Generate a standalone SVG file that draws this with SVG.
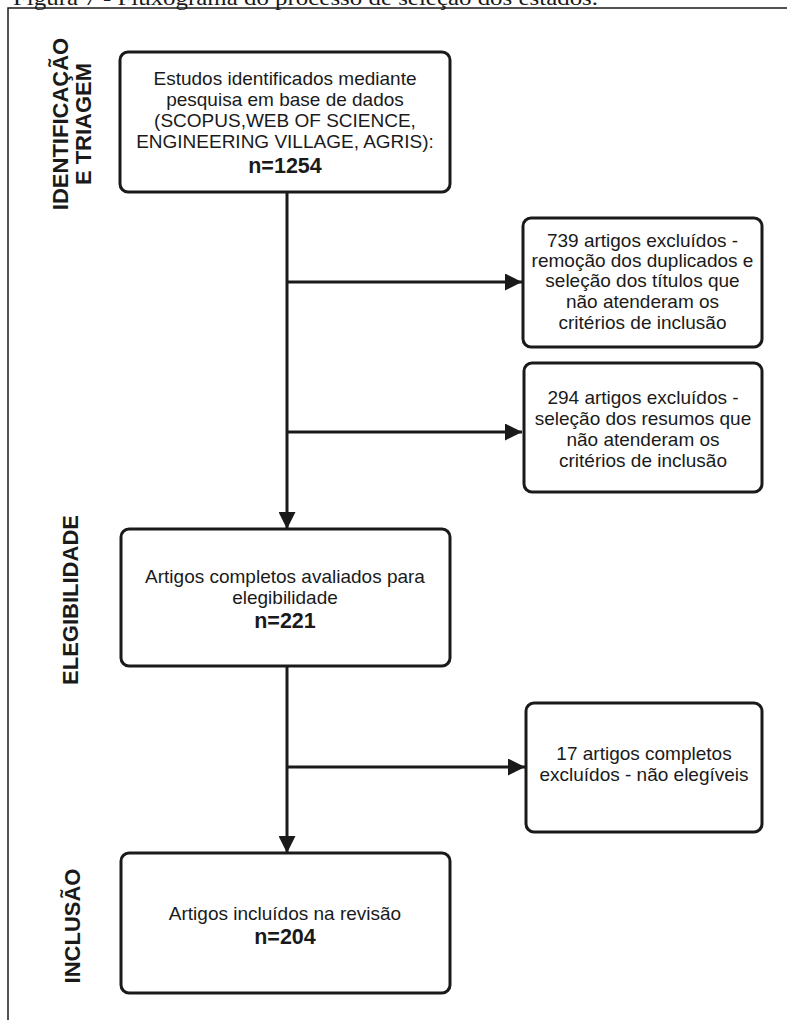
<svg xmlns="http://www.w3.org/2000/svg" width="787" height="1020" viewBox="0 0 787 1020">
<defs>
<style>
.box{fill:#fff;stroke:#1a1a1a;stroke-width:3}
.t{font-family:"Liberation Sans",Arial,sans-serif;font-size:19px;fill:#1a1a1a;text-anchor:middle}
.b{font-family:"Liberation Sans",Arial,sans-serif;font-size:21.5px;font-weight:bold;fill:#1a1a1a;text-anchor:middle}
.side{font-family:"Liberation Sans",Arial,sans-serif;font-size:22px;font-weight:bold;fill:#1a1a1a;text-anchor:middle}
.ln{fill:none;stroke:#1a1a1a;stroke-width:3}
.frame{fill:none;stroke:#1a1a1a;stroke-width:1.5}
</style>
<marker id="ah" markerUnits="userSpaceOnUse" markerWidth="17" markerHeight="17" viewBox="0 0 17 17" refX="17" refY="8.5" orient="auto">
<path d="M0,0 L17,8.5 L0,17 Z" fill="#1a1a1a"/>
</marker>
</defs>
<rect width="787" height="1020" fill="#fff"/>
<text x="13" y="5" font-family="'Liberation Serif','Times New Roman',serif" font-size="21" fill="#1a1a1a" textLength="585" lengthAdjust="spacingAndGlyphs">Figura 7 - Fluxograma do processo de seleção dos estados.</text>
<path class="frame" d="M8,1020 V8 H787"/>
<g id="labels">
<text class="side" transform="translate(68,124) rotate(-90)">IDENTIFICAÇÃO</text>
<text class="side" transform="translate(91,124) rotate(-90)">E TRIAGEM</text>
<text class="side" transform="translate(78,600) rotate(-90)">ELEGIBILIDADE</text>
<text class="side" transform="translate(80,926) rotate(-90)">INCLUSÃO</text>
</g>
<g id="connectors">
<line class="ln" x1="287" y1="192" x2="287" y2="529" marker-end="url(#ah)"/>
<line class="ln" x1="287" y1="282" x2="522" y2="282" marker-end="url(#ah)"/>
<line class="ln" x1="287" y1="432" x2="522" y2="432" marker-end="url(#ah)"/>
<line class="ln" x1="287" y1="666" x2="287" y2="853" marker-end="url(#ah)"/>
<line class="ln" x1="287" y1="767" x2="525" y2="767" marker-end="url(#ah)"/>
</g>
<g id="n1">
<rect class="box" x="120" y="52" width="330" height="140" rx="8"/>
<text class="t" x="285" y="85">Estudos identificados mediante</text>
<text class="t" x="285" y="106">pesquisa em base de dados</text>
<text class="t" x="285" y="127">(SCOPUS,WEB OF SCIENCE,</text>
<text class="t" x="285" y="148">ENGINEERING VILLAGE, AGRIS):</text>
<text class="b" x="285" y="173">n=1254</text>
</g>
<g id="n2">
<rect class="box" x="523" y="218" width="239" height="129" rx="8"/>
<text class="t" x="642.5" y="247">739 artigos excluídos -</text>
<text class="t" x="642.5" y="267">remoção dos duplicados e</text>
<text class="t" x="642.5" y="287">seleção dos títulos que</text>
<text class="t" x="642.5" y="308">não atenderam os</text>
<text class="t" x="642.5" y="329">critérios de inclusão</text>
</g>
<g id="n3">
<rect class="box" x="524" y="363" width="238" height="129" rx="8"/>
<text class="t" x="643" y="404">294 artigos excluídos -</text>
<text class="t" x="643" y="425">seleção dos resumos que</text>
<text class="t" x="643" y="446">não atenderam os</text>
<text class="t" x="643" y="467">critérios de inclusão</text>
</g>
<g id="n4">
<rect class="box" x="121" y="529" width="329" height="137" rx="8"/>
<text class="t" x="285" y="583">Artigos completos avaliados para</text>
<text class="t" x="285" y="604">elegibilidade</text>
<text class="b" x="285" y="628">n=221</text>
</g>
<g id="n5">
<rect class="box" x="526" y="703" width="236" height="129" rx="8"/>
<text class="t" x="644" y="760">17 artigos completos</text>
<text class="t" x="644" y="781">excluídos - não elegíveis</text>
</g>
<g id="n6">
<rect class="box" x="121" y="853" width="329" height="140" rx="8"/>
<text class="t" x="285" y="920">Artigos incluídos na revisão</text>
<text class="b" x="285" y="944">n=204</text>
</g>
</svg>
